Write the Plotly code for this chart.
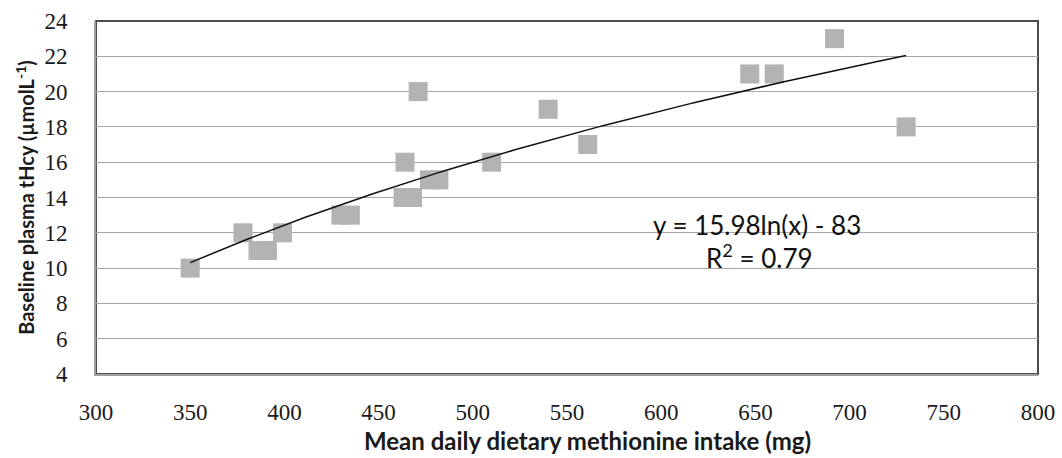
import numpy as np
import plotly.graph_objects as go

# Data
methionine_mg = [350, 378, 386, 391, 399, 430, 435, 463, 468, 464, 471, 477, 482, 510, 540, 561, 647, 660, 692, 730]
thcy_umol = [10, 12, 11, 11, 12, 13, 13, 14, 14, 16, 20, 15, 15, 16, 19, 17, 21, 21, 23, 18]

x_ticks = [300, 350, 400, 450, 500, 550, 600, 650, 700, 750, 800]
y_ticks = [4, 6, 8, 10, 12, 14, 16, 18, 20, 22, 24]

x_title = "<b>Mean daily dietary methionine intake (mg)</b>"
y_title = "<b>Baseline plasma tHcy (µmolL<sup>-1</sup>)</b>"
eq_text = "y = 15.98ln(x) - 83"
r2_text = "R<sup>2</sup> = 0.79"

# Logarithmic trendline fitted to the data
xa = np.array(methionine_mg, dtype=float)
ya = np.array(thcy_umol, dtype=float)
a, b = np.polyfit(np.log(xa), ya, 1)
trend_x = np.linspace(xa.min(), xa.max(), 200)
trend_y = a * np.log(trend_x) + b

fig = go.Figure()
fig.add_trace(go.Scatter(
    x=methionine_mg, y=thcy_umol, mode="markers",
    marker=dict(symbol="square", size=19, color="#b3b3b3", line=dict(width=0)),
    showlegend=False, hoverinfo="x+y"))
fig.add_trace(go.Scatter(
    x=trend_x, y=trend_y, mode="lines",
    line=dict(color="#111111", width=1.5),
    showlegend=False, hoverinfo="skip"))

tick_font = dict(family="Liberation Serif", size=23, color="#1a1a1a")

fig.update_layout(
    width=1062, height=458,
    margin=dict(l=96, r=24, t=21, b=84),
    paper_bgcolor="white", plot_bgcolor="white",
    xaxis=dict(
        range=[300, 800], tickvals=x_ticks, ticktext=[str(v) for v in x_ticks],
        showgrid=False, zeroline=False, automargin=False,
        showline=True, linecolor="#a0a0a0", linewidth=2,
        ticks="", tickfont=tick_font, ticklabelstandoff=16,
    ),
    yaxis=dict(
        range=[4, 24], tickvals=y_ticks, ticktext=[str(v) for v in y_ticks],
        showgrid=True, gridcolor="#a6a6a6", gridwidth=1, zeroline=False, automargin=False,
        showline=True, linecolor="#a0a0a0", linewidth=2,
        ticks="", tickfont=tick_font, ticklabelstandoff=22,
        title=dict(text=y_title, font=dict(family="Lato", size=20, color="#1a1a1a"), standoff=4),
    ),
    shapes=[dict(type="rect", xref="paper", yref="paper", x0=0, x1=1, y0=0, y1=1,
                 line=dict(color="#4d4d4d", width=2), fillcolor="rgba(0,0,0,0)", layer="below")],
    annotations=[
        dict(x=651, y=12.45, xref="x", yref="y", text=eq_text, showarrow=False,
             font=dict(family="Lato", size=26, color="#111111")),
        dict(x=652, y=10.65, xref="x", yref="y", text=r2_text, showarrow=False,
             font=dict(family="Lato", size=26, color="#111111")),
        dict(x=0.522, y=-0.187, xref="paper", yref="paper", text=x_title, showarrow=False,
             xanchor="center", yanchor="middle",
             font=dict(family="Lato", size=24, color="#1a1a1a")),
    ],
)

fig.write_html("out.html", config={"displayModeBar": False},
               post_script="document.body.style.margin='0';")
